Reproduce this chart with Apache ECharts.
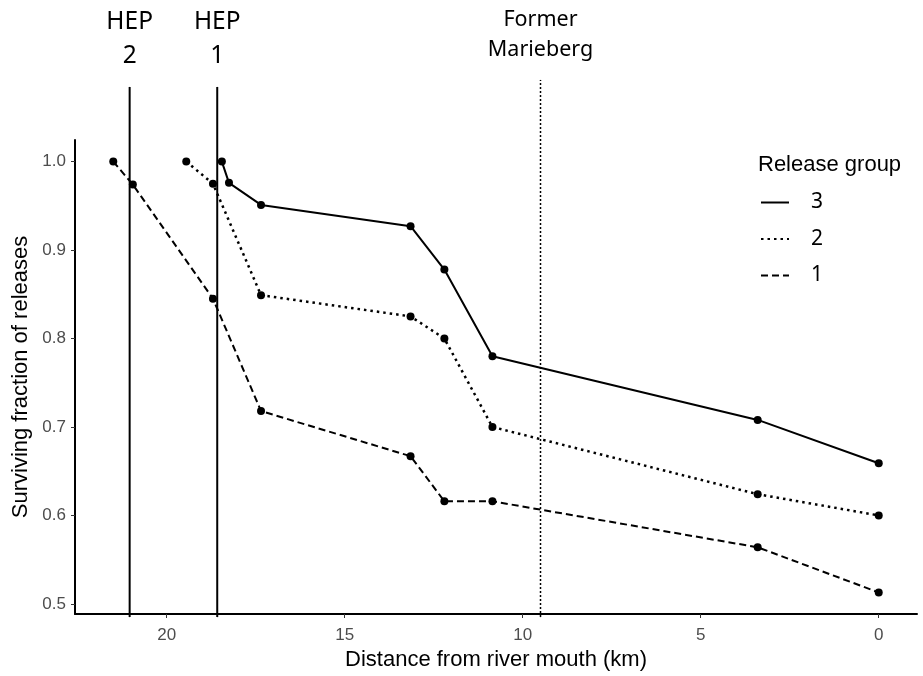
<!DOCTYPE html>
<html>
<head>
<meta charset="utf-8">
<script src="https://cdn.jsdelivr.net/npm/echarts@6/dist/echarts.min.js"></script>
<style>html,body{margin:0;padding:0;background:#fff;}#c{width:923px;height:676px;}</style>
</head>
<body>
<div id="c"></div>
<script>
// ---- data ----
const group3Km  = [18.45, 18.25, 17.35, 13.15, 12.2, 10.85, 3.4, 0];
const group3Val = [1.0, 0.976, 0.951, 0.927, 0.878, 0.780, 0.708, 0.659];
const group2Km  = [19.45, 18.7, 17.35, 13.15, 12.2, 10.85, 3.4, 0];
const group2Val = [1.0, 0.975, 0.849, 0.825, 0.800, 0.700, 0.624, 0.600];
const group1Km  = [21.5, 20.95, 18.7, 17.35, 13.15, 12.2, 10.85, 3.4, 0];
const group1Val = [1.0, 0.974, 0.845, 0.718, 0.667, 0.616, 0.616, 0.564, 0.513];
const xTicks = [0, 5, 10, 15, 20];
const yTicks = [0.5, 0.6, 0.7, 0.8, 0.9, 1.0];
const refNames = ['HEP\n2', 'HEP\n1', 'Former\nMarieberg'];
const refKm = [21.04, 18.58, 9.5];

const zip = (a, b) => a.map((v, i) => [v, b[i]]);
const xMin = -1.075, xMax = 22.575;
const yMin = 0.4886, yMax = 1.0244;

const chart = echarts.init(document.getElementById('c'), null, {renderer: 'canvas'});
const tickLabel = {color: '#4d4d4d', fontFamily: 'Liberation Sans', fontSize: 17};
const nameStyle = {color: '#000', fontFamily: 'Liberation Sans', fontSize: 22};

function refLine(idx, top, labelOpts) {
  return {
    type: 'line', xAxisIndex: 1, yAxisIndex: 1, silent: true,
    symbol: 'circle', symbolSize: 0.5, showSymbol: true, animation: false,
    itemStyle: {color: '#000'},
    lineStyle: labelOpts.lineStyle,
    label: {show: false},
    data: [
      [refKm[idx], 0],
      {value: [refKm[idx], top], label: {
        show: true, position: 'top', distance: labelOpts.distance,
        formatter: refNames[idx], color: '#000',
        fontFamily: 'Noto Sans', fontSize: labelOpts.fontSize,
        lineHeight: labelOpts.lineHeight, align: 'center'
      }}
    ]
  };
}

const option = {
  backgroundColor: '#fff',
  animation: false,
  title: {
    text: 'Release group', left: 753, top: 149,
    textStyle: {color: '#000', fontFamily: 'Liberation Sans', fontSize: 22, fontWeight: 'normal'}
  },
  legend: {
    orient: 'vertical', left: 755, top: 187,
    data: ['3', '2', '1'],
    itemWidth: 28, itemHeight: 14, itemGap: 15.5,
    itemStyle: {opacity: 0},
    textStyle: {color: '#000', fontFamily: 'Noto Sans', fontSize: 21, lineHeight: 20, padding: [0, 0, 0, 17]}
  },
  grid: [
    {left: 75, right: 6, top: 140, bottom: 59, containLabel: false},
    {left: 75, right: 6, top: 80, bottom: 59, containLabel: false}
  ],
  xAxis: [
    {
      type: 'value', gridIndex: 0, inverse: true, min: xMin, max: xMax,
      name: 'Distance from river mouth (km)', nameLocation: 'middle', nameGap: 35,
      nameTextStyle: nameStyle,
      axisLine: {show: true, onZero: false, lineStyle: {color: '#000', width: 2}},
      axisTick: {show: true, length: 4, customValues: xTicks, lineStyle: {color: '#333', width: 1}},
      axisLabel: {customValues: xTicks, margin: 13, ...tickLabel},
      splitLine: {show: false}
    },
    {
      type: 'value', gridIndex: 1, inverse: true, min: xMin, max: xMax, show: false,
      splitLine: {show: false}
    }
  ],
  yAxis: [
    {
      type: 'value', gridIndex: 0, min: yMin, max: yMax,
      name: 'Surviving fraction of releases', nameLocation: 'middle', nameGap: 39,
      nameTextStyle: nameStyle,
      axisLine: {show: true, onZero: false, lineStyle: {color: '#000', width: 2}},
      axisTick: {show: true, length: 4, customValues: yTicks, lineStyle: {color: '#333', width: 1}},
      axisLabel: {customValues: yTicks, margin: 9, formatter: v => v.toFixed(1), ...tickLabel},
      splitLine: {show: false}
    },
    {type: 'value', gridIndex: 1, min: 0, max: 1, show: false, splitLine: {show: false}}
  ],
  series: [
    {
      name: '3', type: 'line', data: zip(group3Km, group3Val),
      symbol: 'circle', symbolSize: 8,
      itemStyle: {color: '#000'},
      lineStyle: {color: '#000', width: 2, type: 'solid'}
    },
    {
      name: '2', type: 'line', data: zip(group2Km, group2Val),
      symbol: 'circle', symbolSize: 8,
      itemStyle: {color: '#000'},
      lineStyle: {color: '#000', width: 2.5, type: [2.5, 4]}
    },
    {
      name: '1', type: 'line', data: zip(group1Km, group1Val),
      symbol: 'circle', symbolSize: 8,
      itemStyle: {color: '#000'},
      lineStyle: {color: '#000', width: 2, type: [7, 4]}
    },
    refLine(0, 0.987, {distance: 14, fontSize: 24.5, lineHeight: 34, lineStyle: {color: '#000', width: 2}}),
    refLine(1, 0.987, {distance: 14, fontSize: 24.5, lineHeight: 34, lineStyle: {color: '#000', width: 2}}),
    refLine(2, 1.0, {distance: 15, fontSize: 21.5, lineHeight: 30, lineStyle: {color: '#000', width: 1.5, type: [2, 2]}})
  ]
};
chart.setOption(option);
</script>
</body>
</html>
